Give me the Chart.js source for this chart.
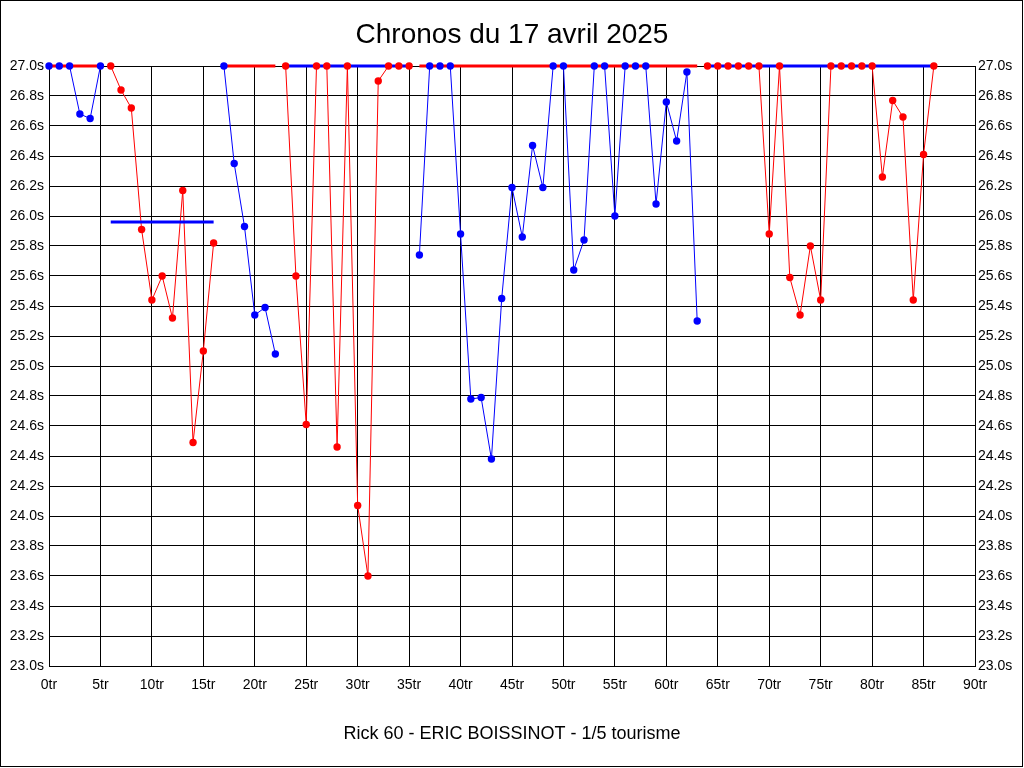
<!DOCTYPE html>
<html>
<head>
<meta charset="utf-8">
<title>Chronos du 17 avril 2025</title>
<script src="https://cdn.jsdelivr.net/npm/chart.js@4/dist/chart.umd.min.js"></script>
<style>
  html, body { margin: 0; padding: 0; background: #fff; }
  #wrap { position: relative; width: 1024px; height: 768px; }
</style>
</head>
<body>
<div id="wrap"><canvas id="chart"></canvas></div>
<script>
// lap times (s), one value per lap from lap 0; null = other driver's stint
const blueTimes = [
  27.0, 27.0, 27.0, 26.68, 26.65, 27.0,
  null, null, null, null, null, null, null, null, null, null, null,
  27.0, 26.35, 25.93, 25.34, 25.39, 25.08,
  null, null, null, null, null, null, null, null, null, null, null, null, null,
  25.74, 27.0, 27.0, 27.0, 25.88, 24.78, 24.79, 24.38, 25.45, 26.19,
  25.86, 26.47, 26.19, 27.0, 27.0, 25.64, 25.84, 27.0, 27.0, 26.00,
  27.0, 27.0, 27.0, 26.08, 26.76, 26.50, 26.96, 25.30,
];
const redTimes = [
  null, null, null, null, null, null,
  27.0, 26.84, 26.72, 25.91, 25.44, 25.60, 25.32, 26.17, 24.49, 25.10, 25.82,
  null, null, null, null, null, null,
  27.0, 25.60, 24.61, 27.0, 27.0, 24.46, 27.0, 24.07, 23.60, 26.90, 27.0, 27.0, 27.0,
  null, null, null, null, null, null, null, null, null, null,
  null, null, null, null, null, null, null, null, null, null,
  null, null, null, null, null, null, null, null,
  27.0, 27.0, 27.0, 27.0, 27.0, 27.0, 25.88, 27.0, 25.59, 25.34, 25.80, 25.44,
  27.0, 27.0, 27.0, 27.0, 27.0, 26.26, 26.77, 26.66, 25.44, 26.41, 27.0,
];

// stint averages (clipped at 27.0s), drawn in the other driver's colour
const avgStart = [0, 6, 17, 23, 36, 64];
const avgEnd = [5, 16, 22, 35, 63, 86];
const avgValue = [27.0, 25.96, 27.0, 27.0, 27.0, 27.0];
const avgColor = ['red', 'blue', 'red', 'blue', 'red', 'blue'];

const COLORS = { blue: '#0000ff', red: '#ff0000' };
const TICK_FONT = { family: '"Liberation Sans", Arial, sans-serif', size: 14 };

const toPoints = (arr) => arr.map((y, x) => ({ x, y }));

// thin line under the averages, dots on top of them
function lapLine(label, times, color) {
  return {
    label,
    data: toPoints(times),
    borderColor: color,
    borderWidth: 1,
    pointRadius: 0,
    spanGaps: false,
    tension: 0,
    clip: false,
    order: 3,
  };
}

function lapDots(label, times, color) {
  return {
    label,
    data: toPoints(times),
    showLine: false,
    pointRadius: 3.7,
    pointBorderWidth: 0,
    pointBackgroundColor: color,
    clip: false,
    order: 1,
  };
}

const avgSets = avgStart.map((start, i) => ({
  label: 'moyenne ' + (i + 1),
  data: [{ x: start, y: avgValue[i] }, { x: avgEnd[i], y: avgValue[i] }],
  borderColor: COLORS[avgColor[i]],
  borderWidth: 3,
  pointRadius: 0,
  clip: false,
  order: 2,
}));

const frame = {
  id: 'frame',
  afterDraw(chart) {
    const { ctx } = chart;
    ctx.save();
    ctx.strokeStyle = '#000';
    ctx.lineWidth = 1;
    ctx.strokeRect(0.5, 0.5, 1022, 766);
    ctx.restore();
  },
};

new Chart(document.getElementById('chart'), {
  type: 'line',
  data: {
    datasets: [
      lapDots('bleu', blueTimes, COLORS.blue),
      lapDots('rouge', redTimes, COLORS.red),
      ...avgSets,
      lapLine('bleu', blueTimes, COLORS.blue),
      lapLine('rouge', redTimes, COLORS.red),
    ],
  },
  plugins: [frame],
  options: {
    responsive: true,
    maintainAspectRatio: false,
    animation: false,
    layout: { padding: 0 },
    plugins: {
      legend: { display: false },
      tooltip: { enabled: false },
      title: {
        display: true,
        text: 'Chronos du 17 avril 2025',
        color: '#000',
        font: { family: '"Liberation Sans", Arial, sans-serif', size: 28, weight: 'normal' },
        padding: { top: 18, bottom: 14.4 },
      },
    },
    scales: {
      x: {
        type: 'linear',
        min: 0,
        max: 90,
        afterFit: (s) => { s.height = 102; },
        ticks: {
          stepSize: 5,
          padding: 11,
          color: '#000',
          font: TICK_FONT,
          maxRotation: 0,
          callback: (v) => v + 'tr',
        },
        grid: { color: '#000', drawTicks: false },
        border: { color: '#000' },
        title: {
          display: true,
          text: 'Rick 60 - ERIC BOISSINOT - 1/5 tourisme',
          color: '#000',
          font: { family: '"Liberation Sans", Arial, sans-serif', size: 18 },
          padding: { top: 0, bottom: 23 },
        },
      },
      y: {
        position: 'left',
        min: 23,
        max: 27,
        afterFit: (s) => { s.width = 49; },
        ticks: {
          stepSize: 0.2,
          padding: 5,
          color: '#000',
          font: TICK_FONT,
          callback: (v) => v.toFixed(1) + 's',
        },
        grid: { color: '#000', drawTicks: false },
        border: { color: '#000' },
      },
      y2: {
        position: 'right',
        min: 23,
        max: 27,
        afterFit: (s) => { s.width = 49; },
        ticks: {
          stepSize: 0.2,
          padding: 3,
          color: '#000',
          font: TICK_FONT,
          callback: (v) => v.toFixed(1) + 's',
        },
        grid: { display: false, drawTicks: false },
        border: { color: '#000' },
      },
    },
  },
});
</script>
</body>
</html>
